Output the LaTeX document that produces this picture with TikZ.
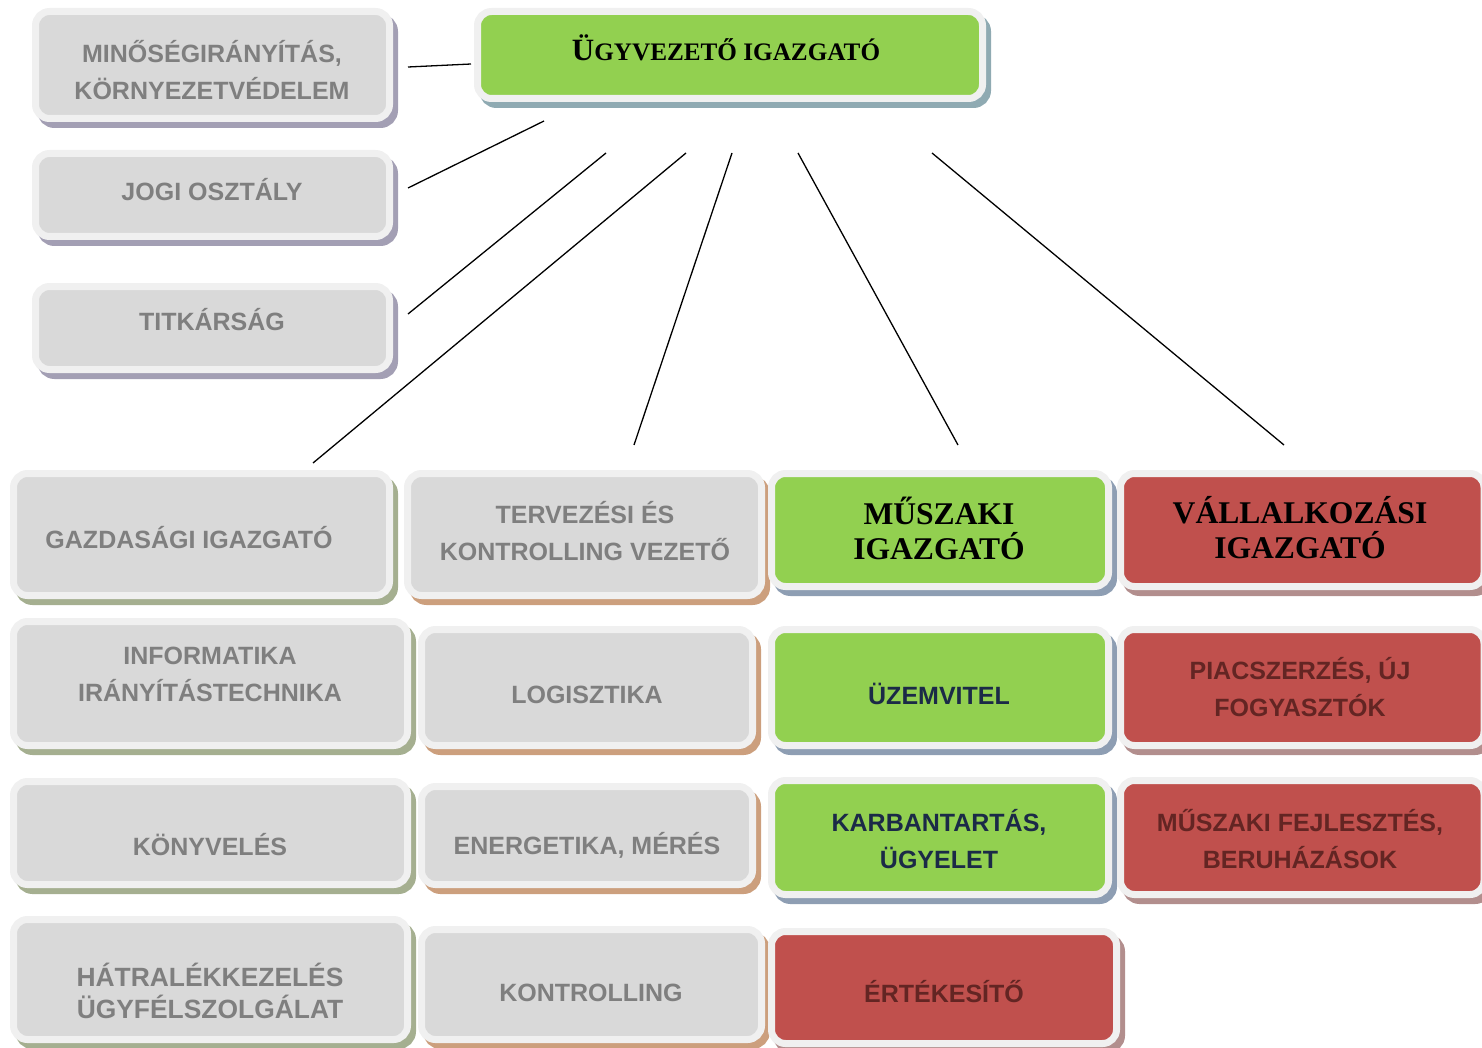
\documentclass[tikz,border=0pt]{standalone}
\usepackage{fontspec}
\setmainfont{Liberation Serif}
\setsansfont{Liberation Sans}
\usetikzlibrary{positioning,fit,shadows}

\begin{document}
\begin{tikzpicture}[x=0.5pt,y=-0.5pt,
  box/.style 2 args={rounded corners=7pt,draw=frame,line width=3.5pt,inner sep=0pt,fill=#1,
    general shadow={fill=#2,draw=#2,line width=3.5pt,shadow xshift=2.5pt,shadow yshift=-3pt}},
  gray label/.style={font=\sffamily\bfseries\fontsize{12.5}{18.5}\selectfont,text=graytext,align=center,inner sep=0pt},
  navy label/.style={gray label,text=navytext},
  red label/.style={gray label,text=redtext},
  head label/.style={font=\rmfamily\bfseries\fontsize{15.8}{17.5}\selectfont,text=black,align=center,inner sep=0pt},
  link/.style={draw=black,line width=0.65pt}]
\definecolor{frame}{HTML}{F0F0F0} \definecolor{boxgray}{HTML}{D9D9D9}
\definecolor{boxgreen}{HTML}{92D050} \definecolor{boxred}{HTML}{C0504D}
\definecolor{graytext}{HTML}{7F7F7F} \definecolor{navytext}{HTML}{1B2A47}
\definecolor{redtext}{HTML}{632523}
\definecolor{shlilac}{HTML}{A39FB4} \definecolor{shteal}{HTML}{8FAAB2}
\definecolor{sholive}{HTML}{A5AF90} \definecolor{shtan}{HTML}{CC9F7D}
\definecolor{shblue}{HTML}{8E9EB3} \definecolor{shmauve}{HTML}{B28E8D}
\useasboundingbox (0,0) rectangle (1482,1048);

% staff boxes and head
\node[box={boxgray}{shlilac},fit={(35.5,11.5) (389.5,118.5)}] (quality) {};
\node[box={boxgray}{shlilac},fit={(35.5,153.5) (389.5,236.5)}] (legal) {};
\node[box={boxgray}{shlilac},fit={(35.5,286.5) (389.5,369.5)}] (secr) {};
\node[box={boxgreen}{shteal},fit={(477.5,11.5) (982.5,98.5)}] (ceo) {};

% directors
\node[box={boxgray}{sholive},fit={(13.5,473.5) (389.5,595.5)}] (finance) {};
\node[box={boxgray}{shtan},fit={(407.5,473.5) (761.5,595.5)}] (planning) {};
\node[box={boxgreen}{shblue},fit={(771.5,473.5) (1108.5,586.5)}] (technical) {};
\node[box={boxred}{shmauve},fit={(1120.5,473.5) (1484,586.5)}] (business) {};

% departments
\node[box={boxgray}{sholive},fit={(13.5,621.5) (407.5,745.5)}] (it) {};
\node[box={boxgray}{shtan},fit={(421.5,629.5) (752.5,745.5)}] (logistics) {};
\node[box={boxgreen}{shblue},fit={(771.5,629.5) (1108.5,745.5)}] (operation) {};
\node[box={boxred}{shmauve},fit={(1120.5,629.5) (1484,745.5)}] (acquisition) {};
\node[box={boxgray}{sholive},fit={(13.5,781.5) (407.5,884.5)}] (accounting) {};
\node[box={boxgray}{shtan},fit={(421.5,786.5) (752.5,884.5)}] (energy) {};
\node[box={boxgreen}{shblue},fit={(771.5,780.5) (1108.5,894.5)}] (maintenance) {};
\node[box={boxred}{shmauve},fit={(1120.5,780.5) (1484,894.5)}] (development) {};
\node[box={boxgray}{sholive},fit={(13.5,919.5) (407.5,1039.5)}] (debts) {};
\node[box={boxgray}{shtan},fit={(421.5,929.5) (761.5,1039.5)}] (controlling) {};
\node[box={boxred}{shmauve},fit={(771.5,931.5) (1116.5,1043.5)}] (sales) {};

% texts
\node[gray label] (quality-t) at (212,70) {MINŐSÉGIRÁNYÍTÁS,\\KÖRNYEZETVÉDELEM};
\node[gray label] (legal-t) at (212,190) {JOGI OSZTÁLY};
\node[gray label] (secr-t) at (212,320) {TITKÁRSÁG};
\node[head label,font=\rmfamily\bfseries\fontsize{12.6}{14}\selectfont] (ceo-t) at (726,48)
  {{\fontsize{15.5}{15}\selectfont Ü}GYVEZETŐ IGAZGATÓ};
\node[gray label] (finance-t) at (189,538) {GAZDASÁGI IGAZGATÓ};
\node[gray label] (planning-t) at (585,531) {TERVEZÉSI ÉS\\KONTROLLING VEZETŐ};
\node[head label] (technical-t) at (939,528) {MŰSZAKI\\IGAZGATÓ};
\node[head label] (business-t) at (1300,528) {VÁLLALKOZÁSI\\IGAZGATÓ};
\node[gray label] (it-t) at (210,674) {INFORMATIKA\\IRÁNYÍTÁSTECHNIKA};
\node[gray label] (logistics-t) at (587,695) {LOGISZTIKA};
\node[navy label] (operation-t) at (939,694) {ÜZEMVITEL};
\node[red label] (acquisition-t) at (1300,687) {PIACSZERZÉS, ÚJ\\FOGYASZTÓK};
\node[gray label] (accounting-t) at (210,845) {KÖNYVELÉS};
\node[gray label] (energy-t) at (587,845) {ENERGETIKA, MÉRÉS};
\node[navy label] (maintenance-t) at (939,839) {KARBANTARTÁS,\\ÜGYELET};
\node[red label] (development-t) at (1300,839) {MŰSZAKI FEJLESZTÉS,\\BERUHÁZÁSOK};
\node[gray label,font=\sffamily\bfseries\fontsize{13.2}{16}\selectfont] (debts-t) at (210,991) {HÁTRALÉKKEZELÉS\\ÜGYFÉLSZOLGÁLAT};
\node[gray label] (controlling-t) at (591,993) {KONTROLLING};
\node[red label] (sales-t) at (944,992) {ÉRTÉKESÍTŐ};

% connector ends
\coordinate (quality-out) at (408,67);  \coordinate (ceo-in) at (471,64);
\coordinate (legal-out) at (408,188);   \coordinate (ceo-s1) at (544,121);
\coordinate (secr-out) at (408,314);    \coordinate (ceo-s2) at (606,153);
\coordinate (finance-in) at (313,463);  \coordinate (ceo-s3) at (686,153);
\coordinate (planning-in) at (634,445); \coordinate (ceo-s4) at (732,153);
\coordinate (technical-in) at (958,445);\coordinate (ceo-s5) at (798,153);
\coordinate (business-in) at (1284,445);\coordinate (ceo-s6) at (932,153);
\foreach \from/\to in {quality-out/ceo-in,legal-out/ceo-s1,secr-out/ceo-s2,finance-in/ceo-s3,
  planning-in/ceo-s4,technical-in/ceo-s5,business-in/ceo-s6}
  \draw[link] (\from) -- (\to);
\end{tikzpicture}
\end{document}
